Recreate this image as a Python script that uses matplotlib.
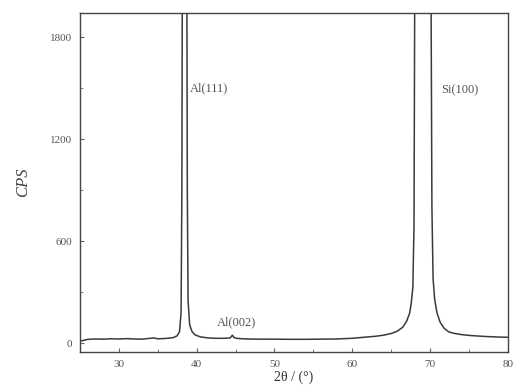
import matplotlib.pyplot as plt
from matplotlib.ticker import MultipleLocator

# 2theta (deg) and counts
two_theta = [25.2, 26, 27, 28, 29, 30, 31, 32, 33, 34, 34.5, 35, 36, 37, 37.5,
             37.8, 38.0, 38.1, 38.2, 38.45, 38.7, 38.8, 38.9, 39.1, 39.4, 39.8,
             40.5, 41.5, 42.5, 43.5, 44.3, 44.6, 44.8, 45.1, 45.6, 46.5, 48, 50,
             52, 54, 56, 58, 60, 61, 62, 63, 64, 65, 65.8, 66.5, 67.0, 67.4,
             67.6, 67.8, 67.95, 68.1, 68.4, 69.1, 69.9, 70.1, 70.25, 70.4, 70.6,
             70.9, 71.3, 71.8, 72.4, 73, 74, 75, 76, 77, 78, 79, 80]
cps = [15, 24, 26, 25, 27, 26, 28, 26, 25, 30, 32, 27, 29, 34, 45,
       70, 180, 900, 3000, 6000, 3000, 900, 250, 110, 70, 50,
       38, 32, 30, 30, 32, 48, 35, 30, 28, 26, 25, 25,
       24, 24, 25, 26, 30, 34, 38, 42, 48, 58, 72, 95, 130, 180,
       240, 330, 700, 3000, 8000, 20000, 8000, 2500, 800, 380, 260,
       180, 125, 90, 68, 60, 52, 47, 44, 41, 39, 37, 36]

peak_labels = ["Al(111)", "Al(002)", "Si(100)"]
label_x = [39.1, 42.6, 71.4]
label_y = [1500, 124, 1490]

plt.rcParams['font.family'] = ['Liberation Serif', 'DejaVu Serif']

fig = plt.figure(figsize=(5.16, 3.88), dpi=100)
ax = fig.add_axes([0.155, 0.093, 0.829, 0.873])
ax.plot(two_theta, cps, color='#3a3a3a', lw=1.1)

for t, x, y in zip(peak_labels, label_x, label_y):
    ax.text(x, y, t, fontsize=9, color='#555555', va='center', ha='left')

ax.set_xlim(25, 80)
ax.set_ylim(-50, 1940)
ax.xaxis.set_major_locator(MultipleLocator(10))
ax.xaxis.set_minor_locator(MultipleLocator(5))
ax.yaxis.set_major_locator(MultipleLocator(600))
ax.yaxis.set_minor_locator(MultipleLocator(300))
ax.tick_params(which='both', direction='in', labelsize=8, labelcolor='#555555',
               color='#666666')
ax.tick_params(axis='x', pad=6)
ax.tick_params(axis='y', pad=6)
ax.tick_params(which='major', length=3)
ax.tick_params(which='minor', length=2)
for s in ax.spines.values():
    s.set_color('#444444')
    s.set_linewidth(1.0)

ax.set_ylabel('CPS', fontsize=12, style='italic', color='#444444', labelpad=13)
ax.set_xlabel('2θ / (°)', fontsize=10, color='#333333', labelpad=1)

fig.savefig('out.png', dpi=100)
